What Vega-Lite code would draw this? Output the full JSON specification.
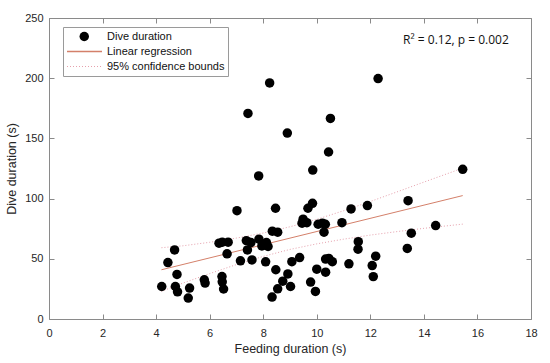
{
  "$schema": "https://vega.github.io/schema/vega-lite/v6.json",
  "width": 482,
  "height": 301,
  "autosize": {"type": "none"},
  "padding": {"left": 49, "top": 18, "right": 19, "bottom": 44},
  "background": "white",
  "config": {
    "view": {"stroke": null},
    "font": "Liberation Sans",
    "axis": {
      "domainColor": "#8a8a8a",
      "tickColor": "#8a8a8a",
      "labelColor": "#262626",
      "titleColor": "#262626",
      "labelFont": "Liberation Sans",
      "titleFont": "Liberation Sans",
      "labelFontSize": 11,
      "titleFontSize": 12.5,
      "titleFontWeight": "normal",
      "grid": false,
      "labelFlush": false,
      "tickSize": -5
    }
  },
  "datasets": {
    "dives": [
      {"feeding": 4.21, "dive": 27.0}, {"feeding": 4.44, "dive": 46.9}, {"feeding": 4.69, "dive": 57.4},
      {"feeding": 4.78, "dive": 37.0}, {"feeding": 4.72, "dive": 27.0}, {"feeding": 4.80, "dive": 22.6},
      {"feeding": 5.25, "dive": 25.7}, {"feeding": 5.20, "dive": 17.4}, {"feeding": 5.80, "dive": 32.6},
      {"feeding": 5.83, "dive": 29.8}, {"feeding": 6.35, "dive": 63.0}, {"feeding": 6.47, "dive": 63.8},
      {"feeding": 6.69, "dive": 63.8}, {"feeding": 6.65, "dive": 54.1}, {"feeding": 6.46, "dive": 35.3},
      {"feeding": 6.47, "dive": 30.9}, {"feeding": 6.52, "dive": 24.9}, {"feeding": 7.02, "dive": 90.0},
      {"feeding": 7.15, "dive": 48.3}, {"feeding": 7.37, "dive": 65.1}, {"feeding": 7.41, "dive": 57.4},
      {"feeding": 7.54, "dive": 63.5}, {"feeding": 7.58, "dive": 49.1}, {"feeding": 7.84, "dive": 66.3},
      {"feeding": 7.95, "dive": 60.7}, {"feeding": 8.12, "dive": 63.5}, {"feeding": 8.18, "dive": 60.2},
      {"feeding": 8.09, "dive": 47.5}, {"feeding": 8.34, "dive": 72.9}, {"feeding": 8.33, "dive": 18.2},
      {"feeding": 8.46, "dive": 92.0}, {"feeding": 8.54, "dive": 72.1}, {"feeding": 8.47, "dive": 40.9},
      {"feeding": 8.54, "dive": 25.1}, {"feeding": 8.73, "dive": 31.4}, {"feeding": 8.92, "dive": 37.4},
      {"feeding": 9.02, "dive": 27.0}, {"feeding": 9.07, "dive": 47.6}, {"feeding": 9.36, "dive": 51.0},
      {"feeding": 9.67, "dive": 92.0}, {"feeding": 9.84, "dive": 96.1}, {"feeding": 9.49, "dive": 82.9},
      {"feeding": 9.45, "dive": 79.6}, {"feeding": 9.63, "dive": 80.0}, {"feeding": 9.77, "dive": 30.7},
      {"feeding": 9.95, "dive": 22.9}, {"feeding": 10.0, "dive": 41.4}, {"feeding": 10.05, "dive": 78.7},
      {"feeding": 10.21, "dive": 79.6}, {"feeding": 10.32, "dive": 78.7}, {"feeding": 10.27, "dive": 72.1},
      {"feeding": 10.33, "dive": 38.9}, {"feeding": 10.33, "dive": 49.8}, {"feeding": 10.45, "dive": 50.3},
      {"feeding": 10.58, "dive": 47.6}, {"feeding": 10.94, "dive": 80.0}, {"feeding": 11.20, "dive": 45.8},
      {"feeding": 11.28, "dive": 91.4}, {"feeding": 11.55, "dive": 64.2}, {"feeding": 11.54, "dive": 58.0},
      {"feeding": 11.89, "dive": 94.2}, {"feeding": 12.07, "dive": 44.4}, {"feeding": 12.11, "dive": 35.2},
      {"feeding": 12.20, "dive": 52.2}, {"feeding": 13.41, "dive": 98.3}, {"feeding": 13.53, "dive": 71.3},
      {"feeding": 13.38, "dive": 58.6}, {"feeding": 14.44, "dive": 77.6}, {"feeding": 15.45, "dive": 124.3},
      {"feeding": 12.29, "dive": 199.7}, {"feeding": 10.51, "dive": 166.6}, {"feeding": 8.90, "dive": 154.4},
      {"feeding": 10.44, "dive": 138.7}, {"feeding": 9.85, "dive": 123.7}, {"feeding": 8.24, "dive": 196.1},
      {"feeding": 7.43, "dive": 170.7}, {"feeding": 7.83, "dive": 118.8}
    ],
    "fit": [
      {"feeding": 4.2, "dive": 40.9},
      {"feeding": 15.45, "dive": 102.5}
    ],
    "bounds": [
      {"feeding": 4.2, "bound": "upper", "dive": 59.2}, {"feeding": 5, "bound": "upper", "dive": 60.8},
      {"feeding": 6, "bound": "upper", "dive": 63.7}, {"feeding": 7, "bound": "upper", "dive": 67.2},
      {"feeding": 8, "bound": "upper", "dive": 71.4}, {"feeding": 9, "bound": "upper", "dive": 76.6},
      {"feeding": 10, "bound": "upper", "dive": 82.8}, {"feeding": 11, "bound": "upper", "dive": 89.9},
      {"feeding": 12, "bound": "upper", "dive": 97.6}, {"feeding": 13, "bound": "upper", "dive": 105.6},
      {"feeding": 14, "bound": "upper", "dive": 113.7}, {"feeding": 15.45, "bound": "upper", "dive": 125.3},
      {"feeding": 4.2, "bound": "lower", "dive": 23.0}, {"feeding": 5, "bound": "lower", "dive": 29.8},
      {"feeding": 6, "bound": "lower", "dive": 37.7}, {"feeding": 7, "bound": "lower", "dive": 45.2},
      {"feeding": 8, "bound": "lower", "dive": 52.0}, {"feeding": 9, "bound": "lower", "dive": 57.8},
      {"feeding": 10, "bound": "lower", "dive": 62.4}, {"feeding": 11, "bound": "lower", "dive": 66.3},
      {"feeding": 12, "bound": "lower", "dive": 69.7}, {"feeding": 13, "bound": "lower", "dive": 72.6},
      {"feeding": 14, "bound": "lower", "dive": 75.3}, {"feeding": 15.45, "bound": "lower", "dive": 78.8}
    ]
  },
  "resolve": {
    "axis": {"x": "independent", "y": "independent"},
    "scale": {"color": "independent"},
    "legend": {"color": "independent"}
  },
  "layer": [
    {
      "data": {"name": "fit"},
      "mark": {"type": "line", "strokeWidth": 1, "opacity": 1},
      "encoding": {
        "x": {"field": "feeding", "type": "quantitative", "scale": {"domain": [0, 18], "nice": false, "zero": true}, "axis": {"orient": "top", "labels": false, "title": null, "values": [0, 2, 4, 6, 8, 10, 12, 14, 16, 18]}},
        "y": {"field": "dive", "type": "quantitative", "scale": {"domain": [0, 250], "nice": false}, "axis": {"orient": "right", "labels": false, "title": null, "values": [0, 50, 100, 150, 200, 250]}},
        "color": {
          "datum": "Linear regression",
          "scale": {"domain": ["Dive duration", "Linear regression", "95% confidence bounds"], "range": ["transparent", "#d4806a", "transparent"]},
          "legend": {
            "title": null, "orient": "none", "legendX": 14, "legendY": 9, "padding": 3,
            "fillColor": "white", "strokeColor": "#9a9a9a",
            "labelFont": "Liberation Sans", "labelFontSize": 11, "labelColor": "#111111",
            "symbolType": "stroke", "symbolSize": 1225, "symbolStrokeWidth": 1.5,
            "clipHeight": 13, "rowPadding": 2, "labelOffset": 4
          }
        }
      }
    },
    {
      "data": {"name": "bounds"},
      "mark": {"type": "line", "strokeWidth": 1, "opacity": 1, "strokeDash": [1, 2]},
      "encoding": {
        "x": {"field": "feeding", "type": "quantitative", "axis": null},
        "y": {"field": "dive", "type": "quantitative", "axis": null},
        "detail": {"field": "bound"},
        "color": {
          "datum": "95% confidence bounds",
          "scale": {"domain": ["95% confidence bounds"], "range": ["#e6a0ac"]},
          "legend": {
            "title": null, "orient": "none", "legendX": 14, "legendY": 39, "padding": 3,
            "labelFont": "Liberation Sans", "labelFontSize": 11, "labelColor": "transparent", "labelExpr": "''",
            "symbolType": "stroke", "symbolSize": 1225, "symbolStrokeWidth": 1.2, "symbolDash": [1, 2],
            "clipHeight": 13, "rowPadding": 2, "labelOffset": 4
          }
        }
      }
    },
    {
      "data": {"name": "dives"},
      "mark": {"type": "circle", "size": 90, "opacity": 1},
      "encoding": {
        "x": {"field": "feeding", "type": "quantitative", "axis": {"orient": "bottom", "title": "Feeding duration (s)", "values": [0, 2, 4, 6, 8, 10, 12, 14, 16, 18], "labelPadding": 13, "titlePadding": 4}},
        "y": {"field": "dive", "type": "quantitative", "axis": {"orient": "left", "title": "Dive duration (s)", "values": [0, 50, 100, 150, 200, 250], "labelPadding": 11, "titlePadding": 6}},
        "color": {
          "datum": "Dive duration",
          "scale": {"domain": ["Dive duration"], "range": ["#000000"]},
          "legend": {
            "title": null, "orient": "none", "legendX": 14, "legendY": 9, "padding": 3,
            "labelFont": "Liberation Sans", "labelFontSize": 11, "labelColor": "transparent", "labelExpr": "''",
            "symbolType": "circle", "symbolSize": 90, "symbolOffset": 12.75, "symbolOpacity": 1,
            "clipHeight": 13, "rowPadding": 2, "labelOffset": 29.5
          }
        }
      }
    },
    {
      "data": {"values": [{}]},
      "mark": {"type": "text", "align": "right", "baseline": "middle", "font": "Open Sans", "fontSize": 12, "color": "#111111", "text": "R² = 0.12, p = 0.002"},
      "encoding": {
        "x": {"datum": 17.17, "type": "quantitative", "axis": null},
        "y": {"datum": 231.5, "type": "quantitative", "axis": null}
      }
    }
  ]
}
